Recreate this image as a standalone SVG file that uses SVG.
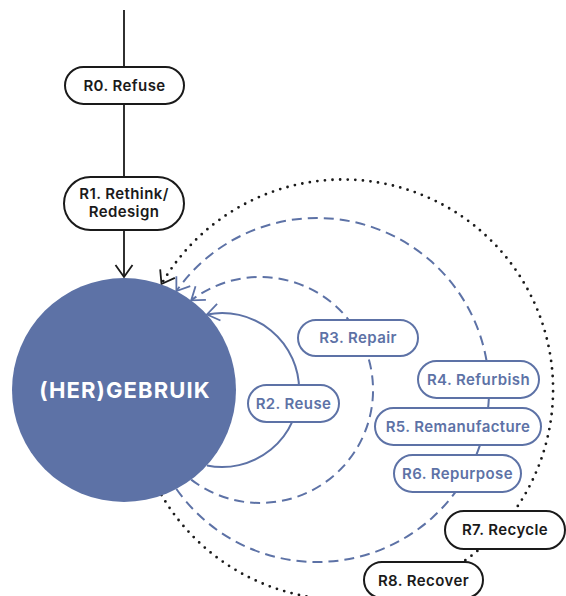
<svg xmlns="http://www.w3.org/2000/svg" width="566" height="596" viewBox="0 0 566 596">
<defs>
<style>
.blk{fill:#fff;stroke:#1a1a1a;stroke-width:2}
.blu{fill:#fff;stroke:#5d72a6;stroke-width:2}
.tb{font-family:Inter,"Open Sans","Liberation Sans",sans-serif;font-weight:600;font-size:15px;letter-spacing:0.4px;fill:#1a1a1a;text-anchor:middle}
.tu{font-family:Inter,"Open Sans","Liberation Sans",sans-serif;font-weight:600;font-size:15px;letter-spacing:0.4px;fill:#5d72a6;text-anchor:middle}
.arc{fill:none;stroke:#5d72a6;stroke-width:2}
.dash{stroke-dasharray:10 6}
.dot{fill:none;stroke:#1a1a1a;stroke-width:2.8;stroke-linecap:round;stroke-dasharray:0 7.6}
</style>
<marker id="ab" markerUnits="userSpaceOnUse" markerWidth="30" markerHeight="30" refX="0" refY="0" viewBox="-15 -15 30 30" orient="auto" overflow="visible">
<path d="M-12,-8.5 L0,0 L-12,8.5" fill="none" stroke="#5d72a6" stroke-width="1.8"/>
</marker>
<marker id="ak" markerUnits="userSpaceOnUse" markerWidth="30" markerHeight="30" refX="0" refY="0" viewBox="-15 -15 30 30" orient="auto" overflow="visible">
<path d="M-12,-8.5 L0,0 L-12,8.5" fill="none" stroke="#1a1a1a" stroke-width="1.8"/>
</marker>
</defs>
<g id="connectors">
<line x1="124" y1="10" x2="124" y2="67" stroke="#1a1a1a" stroke-width="1.8"/>
<line x1="124" y1="104" x2="124" y2="177" stroke="#1a1a1a" stroke-width="1.8"/>
<line x1="124" y1="230" x2="124" y2="277" stroke="#1a1a1a" stroke-width="1.8" marker-end="url(#ak)"/>
<path class="arc" d="M207,465.5 A77,77 0 1 0 207,314.5" marker-end="url(#ab)"/>
<path class="arc dash" d="M191.2,479.6 A113,113 0 1 0 191.2,300.4" marker-end="url(#ab)"/>
<path class="arc dash" d="M176.4,489 A172,172 0 1 0 176.4,291" marker-end="url(#ab)"/>
<path class="dot" d="M161.5,495 A210,210 0 1 0 161.5,284" marker-end="url(#ak)"/>
</g>
<g id="hergebruik">
<circle cx="124" cy="390" r="112" fill="#5d72a6"/>
<text x="125" y="398" font-family="Inter,'Open Sans','Liberation Sans',sans-serif" font-weight="700" font-size="22" letter-spacing="1.1" fill="#fff" text-anchor="middle">(HER)GEBRUIK</text>
</g>
<g id="r0">
<rect class="blk" x="65" y="67" width="119" height="37" rx="18.5"/>
<text class="tb" x="124.5" y="91">R0. Refuse</text>
</g>
<g id="r1">
<rect class="blk" x="64" y="177" width="120" height="53" rx="26.5"/>
<text class="tb" x="124" y="199">R1. Rethink/</text>
<text class="tb" x="124" y="217">Redesign</text>
</g>
<g id="r2">
<rect class="blu" x="248" y="385" width="91" height="37" rx="18.5"/>
<text class="tu" x="293.5" y="409">R2. Reuse</text>
</g>
<g id="r3">
<rect class="blu" x="298" y="320" width="120" height="36" rx="18"/>
<text class="tu" x="358" y="343">R3. Repair</text>
</g>
<g id="r4">
<rect class="blu" x="418" y="361" width="121" height="37" rx="18.5"/>
<text class="tu" x="478.5" y="385">R4. Refurbish</text>
</g>
<g id="r5">
<rect class="blu" x="375" y="408" width="166" height="37" rx="18.5"/>
<text class="tu" x="458" y="432">R5. Remanufacture</text>
</g>
<g id="r6">
<rect class="blu" x="394" y="455" width="127" height="37" rx="18.5"/>
<text class="tu" x="457.5" y="479">R6. Repurpose</text>
</g>
<g id="r7">
<rect class="blk" x="445" y="511" width="120" height="38" rx="19"/>
<text class="tb" x="505" y="535">R7. Recycle</text>
</g>
<g id="r8">
<rect class="blk" x="364" y="562" width="119" height="36" rx="18"/>
<text class="tb" x="423.5" y="586">R8. Recover</text>
</g>
</svg>
